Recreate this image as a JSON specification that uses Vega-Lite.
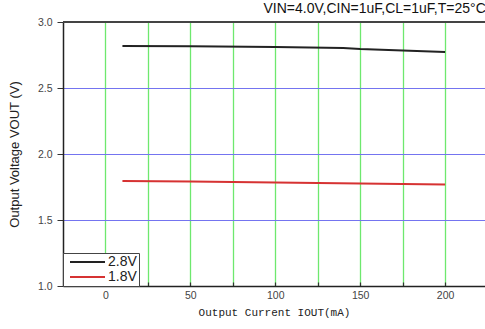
{
  "$schema": "https://vega.github.io/schema/vega-lite/v6.json",
  "width": 422,
  "height": 264,
  "autosize": {"type": "none"},
  "padding": {"left": 63, "top": 22, "right": 0, "bottom": 43},
  "background": "white",
  "config": {"view": {"stroke": null}, "font": "Liberation Sans"},
  "title": {"text": "VIN=4.0V,CIN=1uF,CL=1uF,T=25°C", "anchor": "end", "fontSize": 14, "fontWeight": "normal", "color": "#111111", "font": "Liberation Sans", "offset": 1},
  "data": {"values": [
    {"current": 10, "voltage": 2.818, "series": "2.8V"},
    {"current": 50, "voltage": 2.816, "series": "2.8V"},
    {"current": 100, "voltage": 2.810, "series": "2.8V"},
    {"current": 140, "voltage": 2.803, "series": "2.8V"},
    {"current": 150, "voltage": 2.795, "series": "2.8V"},
    {"current": 200, "voltage": 2.772, "series": "2.8V"},
    {"current": 10, "voltage": 1.795, "series": "1.8V"},
    {"current": 50, "voltage": 1.791, "series": "1.8V"},
    {"current": 100, "voltage": 1.785, "series": "1.8V"},
    {"current": 150, "voltage": 1.777, "series": "1.8V"},
    {"current": 200, "voltage": 1.768, "series": "1.8V"}
  ]},
  "layer": [
    {
      "mark": {"type": "rule", "color": "#444444", "strokeWidth": 1.5},
      "encoding": {"y": {"datum": 3}}
    },
    {
      "mark": {"type": "line", "strokeWidth": 2, "clip": true},
      "encoding": {
        "x": {
          "field": "current", "type": "quantitative",
          "scale": {"domain": [-25, 223.5], "nice": false, "zero": false},
          "axis": {
            "values": [0, 25, 50, 75, 100, 125, 150, 175, 200],
            "labelExpr": "datum.value % 50 == 0 ? datum.label : ''",
            "title": "Output Current IOUT(mA)",
            "titleFont": "Liberation Mono", "titleFontSize": 11, "titleFontWeight": "normal", "titleColor": "#222222", "titlePadding": 6,
            "grid": true, "gridColor": "#6ee86e", "gridWidth": 1.3,
            "domainColor": "#222222", "domainWidth": 1.5,
            "tickColor": "#333333", "tickSize": -4, "tickWidth": 1.2,
            "labelColor": "#444444", "labelFontSize": 10.5, "labelPadding": 8, "labelFlush": false
          }
        },
        "y": {
          "field": "voltage", "type": "quantitative",
          "scale": {"domain": [1, 3], "nice": false, "zero": false},
          "axis": {
            "values": [1, 1.25, 1.5, 1.75, 2, 2.25, 2.5, 2.75, 3],
            "labelExpr": "datum.value % 0.5 == 0 ? format(datum.value, '.1f') : ''",
            "title": "Output Voltage VOUT (V)",
            "titleFont": "Liberation Sans", "titleFontSize": 13, "titleFontWeight": "normal", "titleColor": "#222222", "titlePadding": 16,
            "grid": true, "gridColor": "#7474f0", "gridWidth": 1.2,
            "domainColor": "#222222", "domainWidth": 1.5,
            "tickColor": "#333333", "tickSize": 6,
            "tickOpacity": {"condition": {"test": "datum.value % 0.5 == 0", "value": 1}, "value": 0},
            "labelColor": "#444444", "labelFontSize": 10.5, "labelPadding": 5, "labelFlush": false
          }
        },
        "color": {
          "field": "series", "type": "nominal",
          "scale": {"domain": ["2.8V", "1.8V"], "range": ["#222222", "#d63232"]},
          "legend": {
            "title": null, "orient": "none", "legendX": 0, "legendY": 231,
            "direction": "vertical",
            "strokeColor": "#444444", "fillColor": "white", "padding": 2,
            "symbolType": "M-1,0H16.5", "symbolSize": 16, "symbolStrokeWidth": 2, "symbolFillColor": "transparent",
            "labelFontSize": 14, "labelColor": "#222222", "labelFont": "Liberation Sans",
            "rowPadding": 1, "labelOffset": 29
          }
        }
      }
    }
  ]
}
